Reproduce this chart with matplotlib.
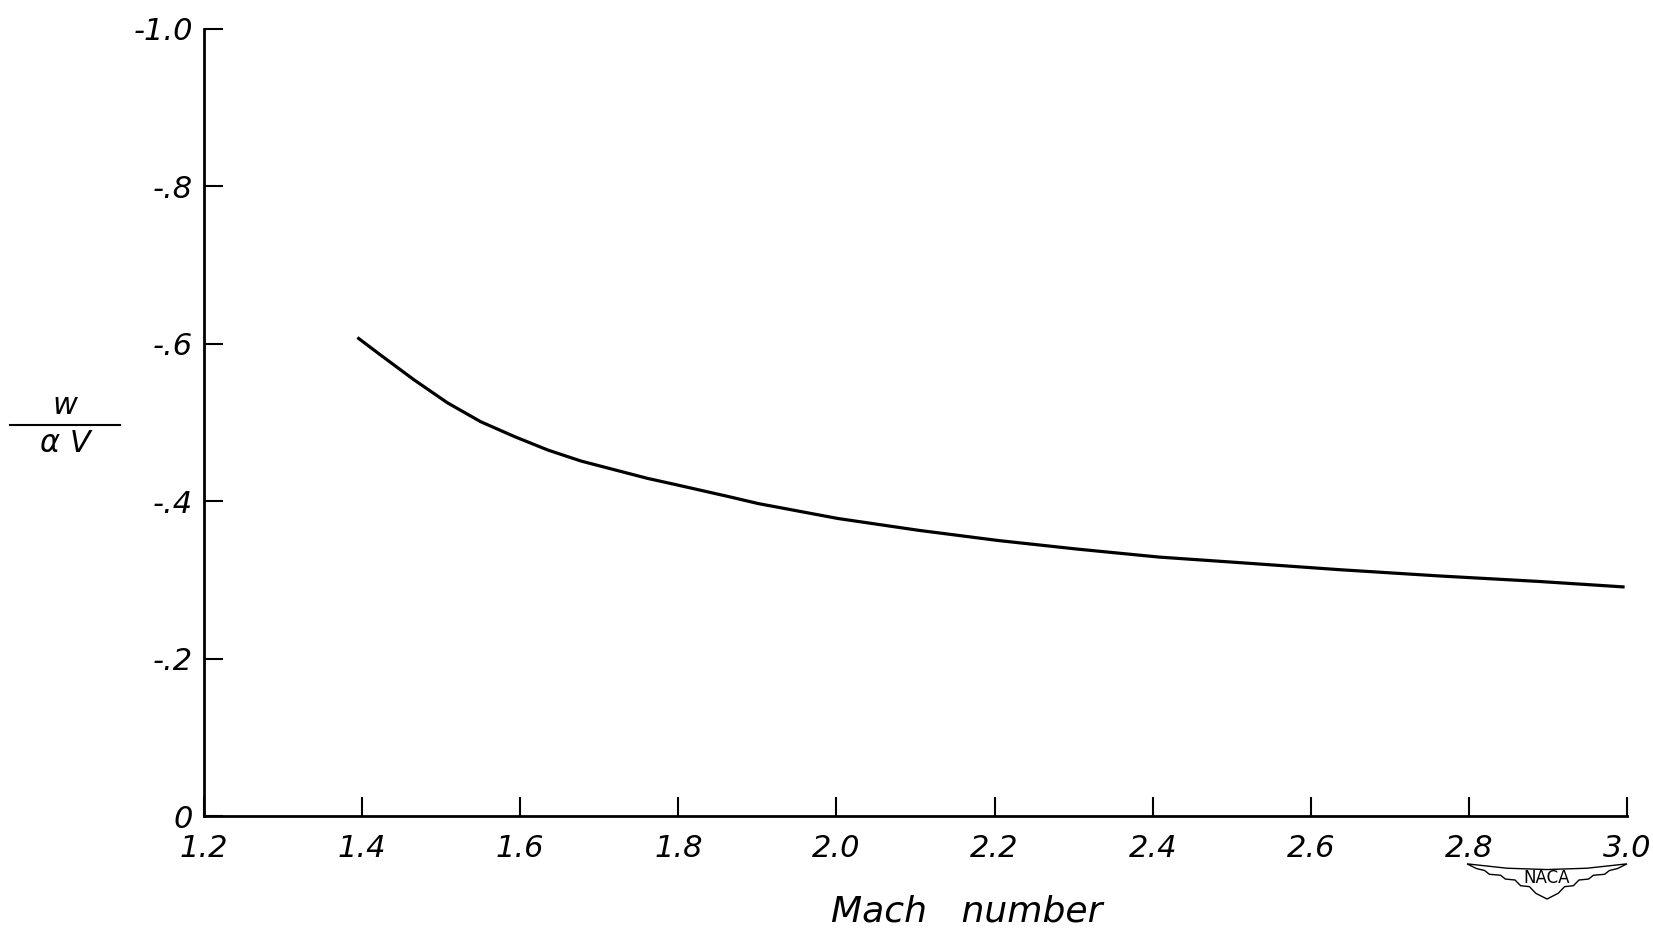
import matplotlib
matplotlib.use('Agg')
import matplotlib.pyplot as plt
from matplotlib.lines import Line2D
from matplotlib.patches import Polygon

# downwash ratio vs Mach number
mach = [1.394, 1.423, 1.466, 1.508, 1.550, 1.593, 1.635, 1.677, 1.719, 1.761,
        1.797, 1.863, 1.901, 2.002, 2.104, 2.205, 2.306, 2.408, 2.509, 2.636,
        2.763, 2.889, 2.997]
w_alpha_v = [-0.608, -0.586, -0.554, -0.525, -0.501, -0.482, -0.465, -0.451,
             -0.440, -0.429, -0.421, -0.406, -0.397, -0.378, -0.363, -0.350,
             -0.339, -0.329, -0.322, -0.313, -0.305, -0.298, -0.291]

xticks = [1.2, 1.4, 1.6, 1.8, 2.0, 2.2, 2.4, 2.6, 2.8, 3.0]
xticklabels = ['1.2', '1.4', '1.6', '1.8', '2.0', '2.2', '2.4', '2.6', '2.8', '3.0']
yticks = [0, -0.2, -0.4, -0.6, -0.8, -1.0]
yticklabels = ['0', '-.2', '-.4', '-.6', '-.8', '-1.0']

W, H = 1653, 935
fig = plt.figure(figsize=(W / 100, H / 100), dpi=100)
ax = fig.add_axes([204 / W, 1 - 816 / H, (1627 - 204) / W, (816 - 29) / H])

ax.plot(mach, w_alpha_v, color='black', lw=2.3, solid_capstyle='butt',
        solid_joinstyle='round')

ax.set_xlim(1.2, 3.0)
ax.set_ylim(0, -1.0)
for s in ['top', 'right']:
    ax.spines[s].set_visible(False)
for s in ['left', 'bottom']:
    ax.spines[s].set_linewidth(2.0)

font = dict(family='DejaVu Sans', style='italic', weight='light')
ax.set_xticks(xticks)
ax.set_xticklabels(xticklabels, fontsize=22, **font)
ax.set_yticks(yticks)
ax.set_yticklabels(yticklabels, fontsize=22, **font)
ax.tick_params(axis='both', direction='in', length=14, width=1.5, color='black')
ax.tick_params(axis='x', pad=13)
ax.tick_params(axis='y', pad=8)

# axis labels
fig.text(967 / W, 1 - 912 / H, 'Mach   number', ha='center', va='center',
         fontsize=26, **font)
fig.text(65 / W, 1 - 405 / H, 'w', ha='center', va='center', fontsize=22, **font)
fig.text(65 / W, 1 - 443 / H, 'α V', ha='center', va='center', fontsize=22, **font)
fig.add_artist(Line2D([10 / W, 120 / W], [1 - 425 / H, 1 - 425 / H],
                      color='black', lw=1.5, transform=fig.transFigure))

# NACA wings emblem
cx, cy, hw, hh = 1547, 880, 80, 19
right = [(0, 0.55), (0.5, 0.62), (1.0, 0.85), (0.88, 0.6), (0.78, 0.5),
         (0.72, 0.3), (0.58, 0.25), (0.52, 0.05), (0.4, 0.0), (0.33, -0.3),
         (0.22, -0.35), (0.14, -0.7), (0, -1.0)]
left = [(-u, v) for u, v in reversed(right[1:-1])]
outline = right + left
pts = [((cx + u * hw) / W, 1 - (cy - v * hh) / H) for u, v in outline]
fig.add_artist(Polygon(pts, closed=True, facecolor='white', edgecolor='black',
                       lw=1.0, transform=fig.transFigure))
fig.text(cx / W, 1 - (cy - 2) / H, 'NACA', ha='center', va='center',
         fontsize=12, family='DejaVu Sans')

fig.savefig('out.png', dpi=100)
